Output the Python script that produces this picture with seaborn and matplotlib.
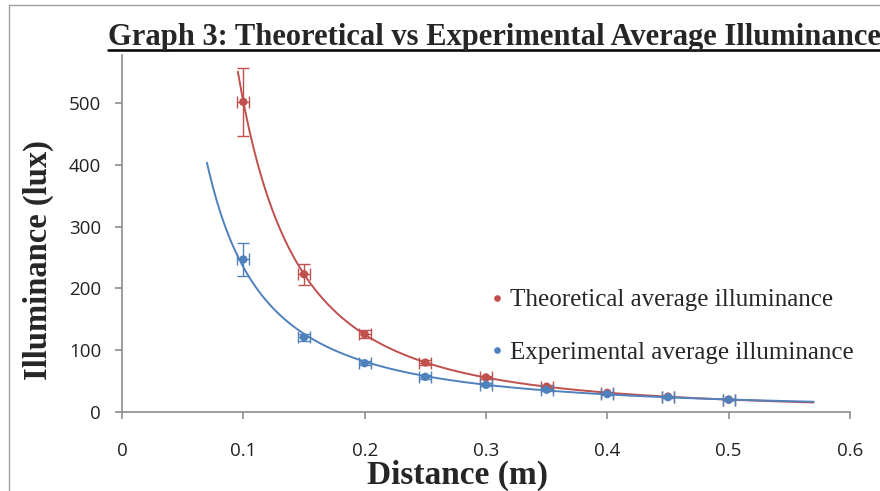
import numpy as np
import pandas as pd
import matplotlib
matplotlib.use("Agg")
import matplotlib.pyplot as plt
import seaborn as sns
from matplotlib.lines import Line2D

# ---- data ----
distance = [0.10, 0.15, 0.20, 0.25, 0.30, 0.35, 0.40, 0.45, 0.50]
theoretical = [502, 223, 126, 80, 56, 41, 31, 25, 20]
experimental = [247, 121, 79, 57, 44, 36, 29, 24, 20]
theo_err = [55, 17, 6, 4, 3, 2.5, 2, 1.5, 1]
exp_err = [27, 6, 3, 3, 2.5, 2, 1.5, 1.5, 1]
x_err = [0.005] * 9
theo_trend_range = [0.0955, 0.57]
exp_trend_range = [0.07, 0.57]
x_ticks = [0, 0.1, 0.2, 0.3, 0.4, 0.5, 0.6]
x_tick_labels = ["0", "0.1", "0.2", "0.3", "0.4", "0.5", "0.6"]
y_ticks = [0, 100, 200, 300, 400, 500]
title = "Graph 3: Theoretical vs Experimental Average Illuminance"
labels = ["Theoretical average illuminance", "Experimental average illuminance"]

RED = "#C0504D"
BLUE = "#4F81BD"

sns.set_theme(style="white")
plt.rcParams["font.family"] = ["Liberation Serif", "DejaVu Serif"]

fig = plt.figure(figsize=(8.8, 4.91), dpi=100)
ax = fig.add_axes([122 / 880, 1 - 412 / 491, (850 - 122) / 880, (412 - 55) / 491])


def power_fit(x, y, lo, hi):
    b, a = np.polyfit(np.log(x), np.log(y), 1)
    xs = np.linspace(lo, hi, 300)
    return pd.DataFrame({"x": xs, "y": np.exp(a) * xs ** b})


t_fit = power_fit(distance, theoretical, *theo_trend_range)
e_fit = power_fit(distance, experimental, *exp_trend_range)

sns.lineplot(data=t_fit, x="x", y="y", ax=ax, color=RED, lw=1.4, zorder=2)
sns.lineplot(data=e_fit, x="x", y="y", ax=ax, color=BLUE, lw=1.4, zorder=2)

ax.errorbar(distance, theoretical, yerr=theo_err, xerr=x_err, fmt="none",
            ecolor=RED, elinewidth=1.0, capsize=4, capthick=1.0, zorder=3)
ax.errorbar(distance, experimental, yerr=exp_err, xerr=x_err, fmt="none",
            ecolor=BLUE, elinewidth=1.0, capsize=4, capthick=1.0, zorder=3)

df = pd.DataFrame({
    "Distance": distance * 2,
    "Illuminance": theoretical + experimental,
    "Series": [labels[0]] * len(distance) + [labels[1]] * len(distance),
})
sns.scatterplot(data=df, x="Distance", y="Illuminance", hue="Series",
                palette=[RED, BLUE], s=36, edgecolor="none", ax=ax, zorder=4)

ax.set_xlim(0, 0.6)
ax.set_ylim(0, 578)
ax.set_xticks(x_ticks)
ax.set_xticklabels(x_tick_labels)
ax.set_yticks(y_ticks)
for lab in ax.get_xticklabels() + ax.get_yticklabels():
    lab.set_fontfamily("Open Sans")
    lab.set_fontsize(13.5)
    lab.set_color("#222222")

for s in ["top", "right"]:
    ax.spines[s].set_visible(False)
for s in ["left", "bottom"]:
    ax.spines[s].set_color("#8c8c8c")
    ax.spines[s].set_linewidth(1.2)
ax.tick_params(axis="both", which="major", direction="out", length=5,
               width=1.2, color="#8c8c8c", bottom=True, left=True)
ax.tick_params(axis="x", pad=16.5)
ax.tick_params(axis="y", pad=10)

ax.set_xlabel("Distance (m)", fontsize=24, fontweight="bold")
ax.set_ylabel("Illuminance (lux)", fontsize=23.5, fontweight="bold")
ax.xaxis.set_label_coords((457 - 122) / 728, -(484 - 412) / 357)
ax.yaxis.set_label_coords((38 - 122) / 728, (412 - 260) / 357)
ax.xaxis.label.set_va("baseline")
ax.yaxis.label.set_va("center")

leg = ax.legend(loc="upper left", bbox_to_anchor=(0.488, 0.373), frameon=False,
                fontsize=18, handletextpad=0.1, labelspacing=1.2,
                markerscale=0.8, borderaxespad=0, handlelength=0.8)

t = fig.text(108 / 880, 1 - 45 / 491, title, fontsize=22, fontweight="bold",
             va="baseline", ha="left")

fig.canvas.draw()
bb = t.get_window_extent()
ux0 = bb.x0 / fig.bbox.width
ux1 = min(bb.x1 / fig.bbox.width, 1.0)
uy = 1 - 50 / 491
fig.add_artist(Line2D([ux0, ux1], [uy, uy], transform=fig.transFigure,
                      color="black", lw=1.8))

# outer border of the chart area
fig.add_artist(Line2D([9 / 880, 9 / 880], [0, 1 - 5 / 491], transform=fig.transFigure,
                      color="#a0a0a0", lw=1.0))
fig.add_artist(Line2D([9 / 880, 1], [1 - 5 / 491, 1 - 5 / 491], transform=fig.transFigure,
                      color="#a0a0a0", lw=1.0))

fig.savefig("out.png", dpi=100)
